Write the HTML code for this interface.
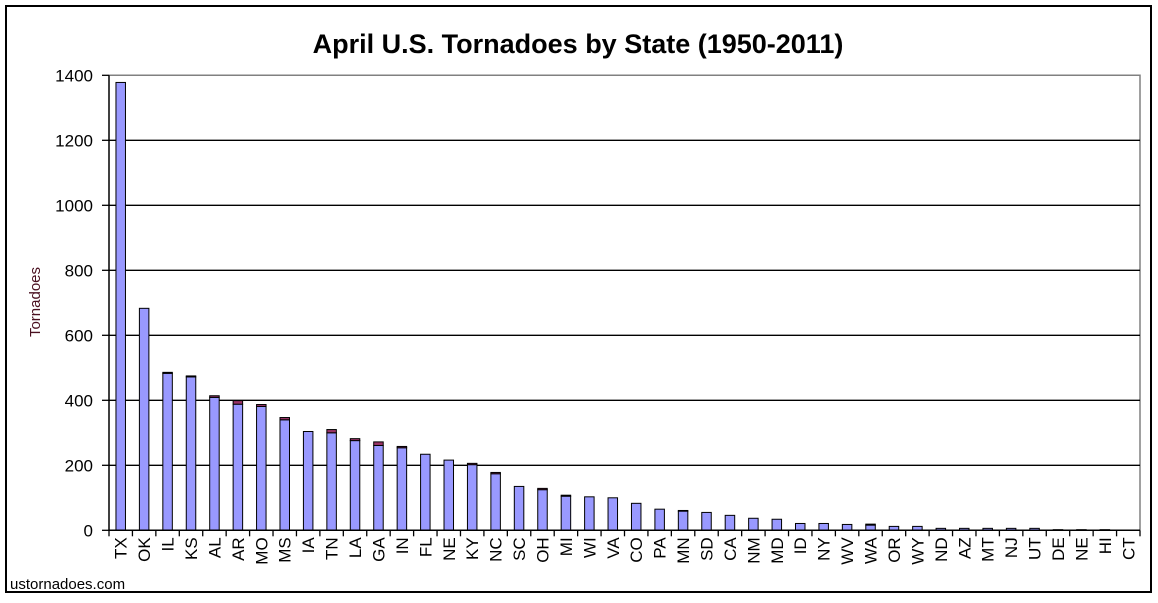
<!DOCTYPE html>
<html><head><meta charset="utf-8"><style>
body{margin:0;background:#fff;width:1158px;height:598px;overflow:hidden;font-family:"Liberation Sans",Arial,sans-serif}
</style></head><body>
<svg id="c" width="1158" height="598" xmlns="http://www.w3.org/2000/svg">
<rect x="6" y="6" width="1145" height="586" fill="#fff" stroke="#000" stroke-width="2"/>
<text x="578" y="53" text-anchor="middle" font-size="27" font-weight="bold" font-family="Liberation Sans, sans-serif">April U.S. Tornadoes by State (1950-2011)</text>
<text transform="translate(40,302) rotate(-90)" text-anchor="middle" font-size="15" fill="#4a1020" font-family="Liberation Sans, sans-serif">Tornadoes</text>
<text x="10" y="589" font-size="15" font-family="Liberation Sans, sans-serif">ustornadoes.com</text>
<g id="g"></g>
</svg>
<script>
const states=["TX","OK","IL","KS","AL","AR","MO","MS","IA","TN","LA","GA","IN","FL","NE","KY","NC","SC","OH","MI","WI","VA","CO","PA","MN","SD","CA","NM","MD","ID","NY","WV","WA","OR","WY","ND","AZ","MT","NJ","UT","DE","NE","HI","CT"];
const mainVals=[1378,683,483,472,409,388,381,340,304,300,276,261,254,234,216,202,174,135,125,105,103,100,83,65,59,55,46,37,34,21,21,18,16,12,12,6,6,6,6,6,2,2,2,0];
const topVals=[0,0,3,3,5,11,6,7,0,10,6,11,4,0,0,4,4,0,4,3,0,0,0,0,2,0,0,0,0,0,0,0,3,0,0,0,0,0,0,0,0,0,0,0];
const yTicks=[0,200,400,600,800,1000,1200,1400];
const NS="http://www.w3.org/2000/svg";
const g=document.getElementById('g');
const L=109,R=1140,B=530.3,T=75.3,maxV=1400;
const y=v=>B-(B-T)*v/maxV;
const n=states.length,step=(R-L)/n;
const x=i=>L+step*i;
function mk(tag,attrs){const e=document.createElementNS(NS,tag);for(const k in attrs)e.setAttribute(k,attrs[k]);g.appendChild(e);return e;}
let fr=mk('polyline',{points:`${L},${T} ${R},${T} ${R},${B}`,fill:'none',stroke:'#808080','stroke-width':1.5});


yTicks.forEach(v=>{
  if(v>0&&v<maxV){const gl=mk('line',{x1:L,x2:R,y1:y(v),y2:y(v),stroke:'#000','stroke-width':1.3});
  
  }
  const tk=mk('line',{x1:L-7,x2:L,y1:y(v),y2:y(v),stroke:'#000','stroke-width':1.3});
  
  
  const t=mk('text',{x:L-16,y:y(v)+6,'text-anchor':'end','font-size':17,'font-family':'Liberation Sans, sans-serif'});
  t.textContent=v;
  
  
});
const bw=9.5;
states.forEach((s,i)=>{
  const cx=x(i)+step/2;
  const tot=mainVals[i]+topVals[i];
  if(mainVals[i]>0){
    const r=mk('rect',{x:cx-bw/2,y:y(mainVals[i]),width:bw,height:B-y(mainVals[i]),fill:'#9999ff',stroke:'#000','stroke-width':1});
    
    
  }
  if(topVals[i]>0){
    const r2=mk('rect',{x:cx-bw/2,y:y(tot),width:bw,height:y(mainVals[i])-y(tot),fill:'#993366',stroke:'#000','stroke-width':1});
    
    
  }
  const tk=mk('line',{x1:x(i),x2:x(i),y1:B,y2:B+6,stroke:'#000','stroke-width':1.3});
  
  
  const t=mk('text',{transform:`translate(${cx+6},${B+7}) rotate(-90)`,'text-anchor':'end','font-size':17,'font-family':'Liberation Sans, sans-serif'});
  t.textContent=s;
  
  
});
const lt=mk('line',{x1:R,x2:R,y1:B,y2:B+6,stroke:'#000','stroke-width':1.3});


const ax=mk('line',{x1:L,x2:L,y1:T,y2:B,stroke:'#000','stroke-width':1.5});


const xa=mk('line',{x1:L,x2:R,y1:B,y2:B,stroke:'#000','stroke-width':1.5});


</script>
</body></html>
